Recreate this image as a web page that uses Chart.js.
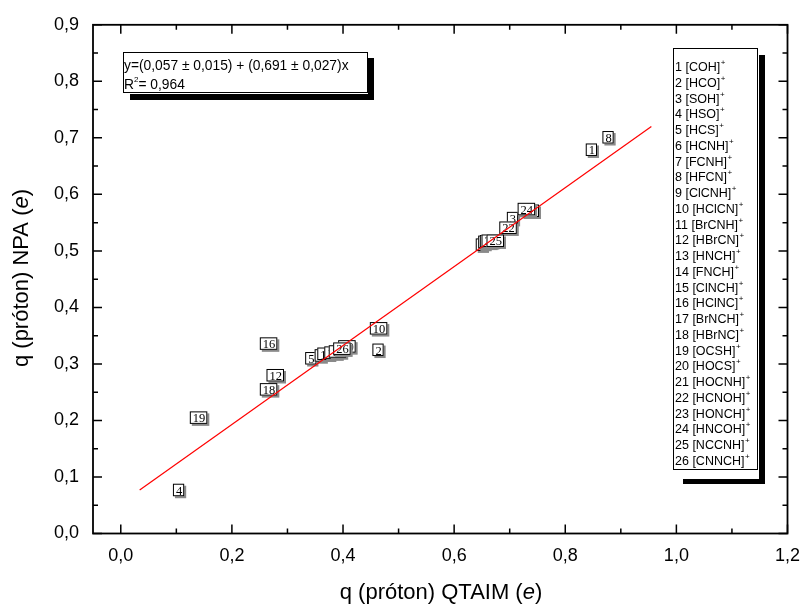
<!DOCTYPE html>
<html><head><meta charset="utf-8">
<script src="https://cdn.jsdelivr.net/npm/chart.js@4.4.1/dist/chart.umd.min.js"></script>
<style>html,body{margin:0;padding:0;background:#fff;} #wrap{width:800px;height:605px;}</style>
</head><body><div id="wrap"><canvas id="c" width="800" height="605"></canvas></div>
<script>
// ---- data ----
const compoundNumbers = [1,2,3,4,5,6,7,8,9,10,11,12,13,14,15,16,17,18,19,20,21,22,23,24,25,26];
const compoundNames = ["[COH]","[HCO]","[SOH]","[HSO]","[HCS]","[HCNH]","[FCNH]","[HFCN]","[ClCNH]","[HClCN]","[BrCNH]","[HBrCN]","[HNCH]","[FNCH]","[ClNCH]","[HClNC]","[BrNCH]","[HBrNC]","[OCSH]","[HOCS]","[HOCNH]","[HCNOH]","[HONCH]","[HNCOH]","[NCCNH]","[CNNCH]"];
const qtaim = [0.847,0.463,0.705,0.104,0.342,0.649,0.654,0.877,0.359,0.464,0.369,0.278,0.659,0.662,0.382,0.266,0.390,0.266,0.140,0.407,0.737,0.697,0.665,0.730,0.674,0.398];
const npa   = [0.679,0.325,0.558,0.077,0.310,0.511,0.514,0.701,0.315,0.363,0.318,0.280,0.516,0.517,0.320,0.336,0.322,0.255,0.205,0.331,0.571,0.541,0.518,0.574,0.518,0.327];
const fitX = [0.034, 0.955];
const fitY = [0.077, 0.720];
const xMajorTicks = [0,0.2,0.4,0.6,0.8,1.0,1.2];
const xMinorTicks = [0.1,0.3,0.5,0.7,0.9,1.1];
const yMajorTicks = [0,0.1,0.2,0.3,0.4,0.5,0.6,0.7,0.8,0.9];
const yMinorTicks = [0.05,0.15,0.25,0.35,0.45,0.55,0.65,0.75,0.85];
const equationLine = "y=(0,057 ± 0,015) + (0,691 ± 0,027)x";
const r2Text = "0,964";

const fmt = v => v.toFixed(1).replace('.', ',');
const SANS = '"Liberation Sans", Arial, sans-serif';
const SERIF = '"Liberation Serif", "Times New Roman", serif';

const framePlugin = {
  id: 'frame',
  beforeDatasetsDraw(chart) {
    const ctx = chart.ctx, a = chart.chartArea;
    const xs = chart.scales.x, ys = chart.scales.y;
    ctx.save();
    ctx.strokeStyle = '#000';
    ctx.lineWidth = 1.8;
    ctx.strokeRect(a.left, a.top, a.right - a.left, a.bottom - a.top);
    ctx.lineWidth = 1.5;
    ctx.beginPath();
    const tick = (vals, len) => {
      vals.forEach(v => {
        const px = xs.getPixelForValue(v);
        ctx.moveTo(px, a.bottom); ctx.lineTo(px, a.bottom - len);
        ctx.moveTo(px, a.top); ctx.lineTo(px, a.top + len);
      });
    };
    const ticky = (vals, len) => {
      vals.forEach(v => {
        const py = ys.getPixelForValue(v);
        ctx.moveTo(a.left, py); ctx.lineTo(a.left + len, py);
        ctx.moveTo(a.right, py); ctx.lineTo(a.right - len, py);
      });
    };
    tick(xMajorTicks, 9); tick(xMinorTicks, 5);
    ticky(yMajorTicks, 9); ticky(yMinorTicks, 5);
    ctx.stroke();
    ctx.restore();
  },
  afterDatasetDraw(chart, args) {
    if (args.meta.type !== 'scatter') return;
    const ctx = chart.ctx;
    ctx.save();
    ctx.font = '12.5px ' + SERIF;
    ctx.textAlign = 'center';
    ctx.textBaseline = 'middle';
    args.meta.data.forEach((el, i) => {
      const label = String(compoundNumbers[i]);
      const w = ctx.measureText(label).width + 5;
      const h = 12.5;
      const x = el.x - w / 2, y = el.y - h / 2;
      ctx.fillStyle = '#8a8a8a';
      ctx.fillRect(x + 2, y + 2, w, h);
      ctx.fillStyle = '#fff';
      ctx.fillRect(x, y, w, h);
      ctx.strokeStyle = '#000';
      ctx.lineWidth = 1;
      ctx.strokeRect(x + 0.5, y + 0.5, w - 1, h - 1);
      ctx.fillStyle = '#000';
      ctx.fillText(label, el.x + 0.5, el.y + 1.5);
    });
    ctx.restore();
  },
  afterDraw(chart) {
    const ctx = chart.ctx;
    ctx.save();
    ctx.fillStyle = '#000';
    ctx.textBaseline = 'alphabetic';
    const drawMixed = (parts, cx, cy) => {
      let total = 0;
      parts.forEach(p => { ctx.font = p[1]; total += ctx.measureText(p[0]).width; });
      let x = cx - total / 2;
      parts.forEach(p => { ctx.font = p[1]; ctx.textAlign = 'left'; ctx.fillText(p[0], x, cy); x += ctx.measureText(p[0]).width; });
    };
    const nf = '22px ' + SANS, itf = 'italic 22px ' + SANS;
    drawMixed([["q (próton) QTAIM (", nf], ["e", itf], [")", nf]], 441, 599);
    ctx.save();
    ctx.translate(28, 278);
    ctx.rotate(-Math.PI / 2);
    drawMixed([["q (próton) NPA (", nf], ["e", itf], [")", nf]], 0, 0);
    ctx.restore();

    // equation box
    ctx.fillStyle = '#000';
    ctx.fillRect(368, 58, 6, 41);
    ctx.fillRect(130, 94, 244, 6);
    ctx.fillStyle = '#fff';
    ctx.fillRect(123, 52, 244, 40);
    ctx.strokeStyle = '#000'; ctx.lineWidth = 1;
    ctx.strokeRect(123.5, 52.5, 244, 40);
    ctx.fillStyle = '#000';
    ctx.textAlign = 'left';
    ctx.font = '13.8px ' + SANS;
    ctx.fillText(equationLine, 124, 70);
    ctx.fillText("R", 124, 89);
    let rx = 124 + ctx.measureText("R").width;
    ctx.font = '8px ' + SANS;
    ctx.fillText("2", rx, 82);
    rx += ctx.measureText("2").width;
    ctx.font = '13.8px ' + SANS;
    ctx.fillText("= " + r2Text, rx, 89);

    // legend box
    ctx.fillStyle = '#000';
    ctx.fillRect(759, 55, 6, 429);
    ctx.fillRect(683, 479, 82, 5);
    ctx.fillStyle = '#fff';
    ctx.fillRect(673, 48, 84, 421);
    ctx.strokeRect(673.5, 48.5, 84, 421);
    ctx.fillStyle = '#000';
    compoundNames.forEach((n, i) => {
      const y = 71 + i * 15.75;
      ctx.font = '12.5px ' + SANS;
      const s = compoundNumbers[i] + " " + n;
      ctx.fillText(s, 675, y);
      const w = ctx.measureText(s).width;
      ctx.font = '8px ' + SANS;
      ctx.fillText("+", 675 + w + 0.5, y - 6);
    });
    ctx.restore();
  }
};

new Chart(document.getElementById('c'), {
  type: 'scatter',
  data: {
    datasets: [
      {
        type: 'scatter',
        data: qtaim.map((v, i) => ({ x: v, y: npa[i] })),
        pointRadius: 0,
        pointHoverRadius: 0,
        order: 2
      },
      {
        type: 'line',
        data: fitX.map((v, i) => ({ x: v, y: fitY[i] })),
        borderColor: '#ff0000',
        borderWidth: 1.2,
        pointRadius: 0,
        fill: false,
        order: 1
      }
    ]
  },
  options: {
    responsive: false,
    animation: false,
    devicePixelRatio: 1,
    layout: { padding: { top: 23, right: 0, left: 0, bottom: 0 } },
    plugins: { legend: { display: false }, tooltip: { enabled: false }, title: { display: false } },
    scales: {
      x: {
        type: 'linear', min: -0.05, max: 1.2,
        afterBuildTicks: s => { s.ticks = xMajorTicks.map(v => ({ value: v })); },
        afterFit: s => { s.height = 71.5; s.paddingRight = 12.5; },
        grid: { display: false, drawTicks: false },
        border: { display: false },
        ticks: { callback: v => fmt(v), color: '#000', font: { size: 18, family: SANS }, padding: 12, maxRotation: 0, autoSkip: false }
      },
      y: {
        type: 'linear', min: 0, max: 0.9,
        afterBuildTicks: s => { s.ticks = yMajorTicks.map(v => ({ value: v })); },
        afterFit: s => { s.width = 93; },
        grid: { display: false, drawTicks: false },
        border: { display: false },
        ticks: { callback: v => fmt(v), color: '#000', font: { size: 18, family: SANS }, padding: 14, autoSkip: false }
      }
    }
  },
  plugins: [framePlugin]
});
</script>
</body></html>
